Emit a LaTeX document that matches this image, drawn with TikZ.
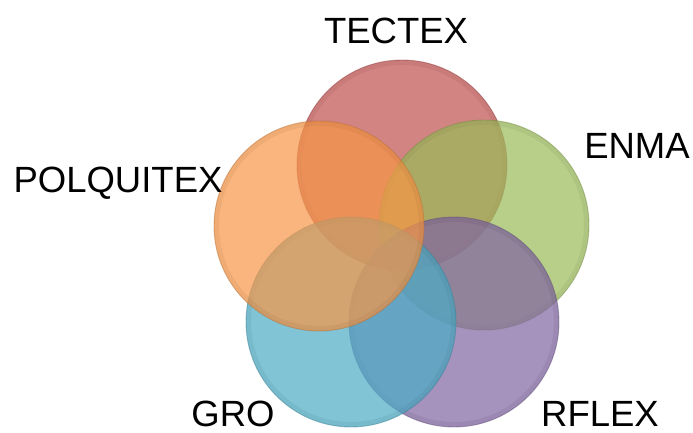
\documentclass[tikz,border=0pt]{standalone}
\usepackage{fontspec}
\setmainfont{Liberation Sans}
\begin{document}
\begin{tikzpicture}[x=1pt,y=-1pt,
  venn/.style={fill=#1, fill opacity=0.70, draw=#1!75!black, draw opacity=0.45, line width=0.9pt},
  rim/.style={draw=#1!60!black, draw opacity=0.10, line width=5pt},
  lbl/.style={font=\fontsize{36.5}{40}\selectfont, anchor=base, inner sep=0pt, text=black}]
\definecolor{cred}{RGB}{192,80,77}
\definecolor{cgreen}{RGB}{155,187,89}
\definecolor{cpurple}{RGB}{128,100,162}
\definecolor{cblue}{RGB}{75,172,198}
\definecolor{corange}{RGB}{247,150,70}
\useasboundingbox (0,0) rectangle (693,433);
\fill[white] (0,0) rectangle (693,433);
% circles, bottom to top
\coordinate (ct) at (402,165);
\coordinate (ce) at (484,225);
\coordinate (cr) at (454,322);
\coordinate (cg) at (351,322);
\coordinate (cp) at (319,226);
\path[venn=cred] (ct) circle[radius=105];
\path[rim=cred] (ct) circle[radius=102.5];
\path[venn=cgreen] (ce) circle[radius=105];
\path[rim=cgreen] (ce) circle[radius=102.5];
\path[venn=cpurple] (cr) circle[radius=105];
\path[rim=cpurple] (cr) circle[radius=102.5];
\path[venn=cblue] (cg) circle[radius=105];
\path[rim=cblue] (cg) circle[radius=102.5];
\path[venn=corange] (cp) circle[radius=105];
\path[rim=corange] (cp) circle[radius=102.5];
% labels
\node[lbl] (ltec) at (396,44) {TECTEX};
\node[lbl] (lenm) at (637,158) {ENMA};
\node[lbl] (lpol) at (118,192) {POLQUITEX};
\node[lbl] (lgro) at (233,426) {GRO};
\node[lbl] (lrfl) at (600,426) {RFLEX};
\end{tikzpicture}
\end{document}
